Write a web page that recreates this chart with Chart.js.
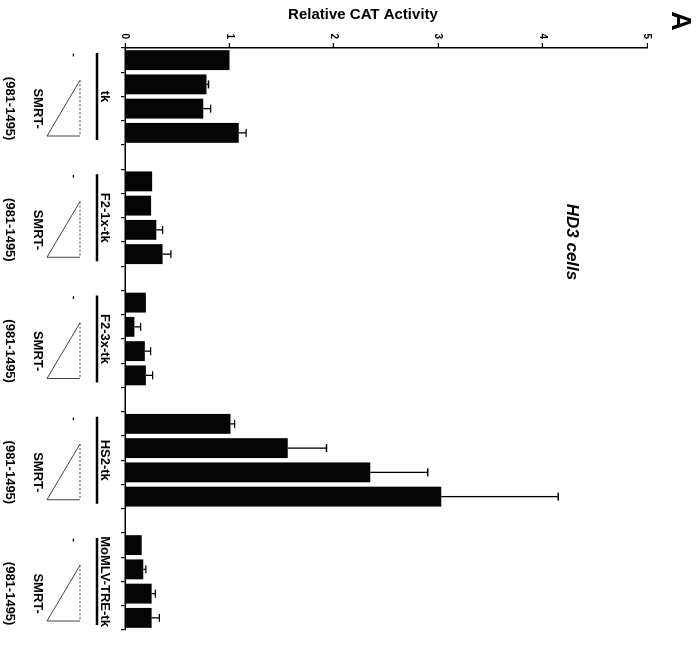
<!DOCTYPE html>
<html>
<head>
<meta charset="utf-8">
<script src="https://cdn.jsdelivr.net/npm/chart.js@4/dist/chart.umd.min.js"></script>
<style>
  html, body { margin: 0; padding: 0; background: #fff; overflow: hidden; }
  /* The figure is laid out upright and then turned a quarter turn clockwise on the page */
  #stage {
    position: absolute; left: 0; top: 0;
    width: 654px; height: 700px;
    transform-origin: 0 0;
    transform: translate(700px, 0) rotate(90deg);
    background: #fff;
  }
</style>
</head>
<body>
<div id="stage"><canvas id="chart" width="654" height="700"></canvas></div>
<script>
// Reporter constructs (one group of four bars each)
const reporters = ['tk', 'F2-1x-tk', 'F2-3x-tk', 'HS2-tk', 'MoMLV-TRE-tk'];

// Mean relative CAT activity: no SMRT, then increasing SMRT-(981-1495)
const tkMean       = [1.00, 0.78, 0.75, 1.09];
const f2OneMean    = [0.26, 0.25, 0.30, 0.36];
const f2ThreeMean  = [0.20, 0.09, 0.19, 0.20];
const hs2Mean      = [1.01, 1.56, 2.35, 3.03];
const momlvMean    = [0.16, 0.175, 0.255, 0.255];

// Upper end of each error bar (null = no bar drawn)
const tkUpper      = [null, 0.80, 0.82, 1.16];
const f2OneUpper   = [null, null, 0.36, 0.44];
const f2ThreeUpper = [null, 0.15, 0.245, 0.265];
const hs2Upper     = [1.05, 1.93, 2.90, 4.15];
const momlvUpper   = [null, 0.20, 0.29, 0.33];

// Value axis ticks
const activityTicks = [0, 1, 2, 3, 4, 5];

const FONT = "'Liberation Sans', Arial, Helvetica, sans-serif";
const groupMeans = [tkMean, f2OneMean, f2ThreeMean, hs2Mean, momlvMean];
const groupUpper = [tkUpper, f2OneUpper, f2ThreeUpper, hs2Upper, momlvUpper];

// Flatten into slots, leaving one empty slot between reporter groups
const slotLabels = [], slotMeans = [], slotUpper = [], groupStart = [];
groupMeans.forEach((means, g) => {
  if (g > 0) { slotLabels.push(''); slotMeans.push(null); slotUpper.push(null); }
  groupStart.push(slotLabels.length);
  means.forEach((m, i) => {
    slotLabels.push(reporters[g] + ' #' + (i + 1));
    slotMeans.push(m);
    slotUpper.push(groupUpper[g][i]);
  });
});

const figureMarks = {
  id: 'figureMarks',
  afterDatasetsDraw(chart) {
    const { ctx, scales: { x, y } } = chart;
    ctx.save();
    ctx.strokeStyle = '#000';
    ctx.lineWidth = 1.3;
    slotUpper.forEach((up, i) => {
      if (up === null || slotMeans[i] === null) return;
      const px = x.getPixelForValue(i);
      const y0 = y.getPixelForValue(slotMeans[i]);
      const y1 = y.getPixelForValue(up);
      ctx.beginPath();
      ctx.moveTo(px, y0); ctx.lineTo(px, y1);
      ctx.moveTo(px - 4, y1); ctx.lineTo(px + 4, y1);
      ctx.stroke();
    });
    ctx.restore();
  },
  afterDraw(chart) {
    const { ctx, chartArea, scales: { x, y } } = chart;
    const slotW = x.width / slotLabels.length;
    const base = chartArea.bottom;
    ctx.save();
    ctx.fillStyle = '#000';
    ctx.strokeStyle = '#000';
    ctx.textAlign = 'center';
    ctx.textBaseline = 'middle';

    reporters.forEach((name, g) => {
      const left = x.left + groupStart[g] * slotW;
      const right = left + 4 * slotW;

      // reporter name with rule beneath
      ctx.font = 'bold 13px ' + FONT;
      ctx.fillText(name, (left + right) / 2, base + 20);
      ctx.lineWidth = 2.6;
      ctx.beginPath();
      ctx.moveTo(left + 5, base + 28);
      ctx.lineTo(right - 5, base + 28);
      ctx.stroke();

      // no SMRT
      ctx.font = 'bold 11px ' + FONT;
      ctx.fillText('-', left + slotW / 2 - 5, base + 51);

      // increasing SMRT wedge
      const wl = left + slotW + 8, wr = right - 9;
      const wt = base + 45, wb = base + 78;
      ctx.strokeStyle = '#444';
      ctx.lineWidth = 1;
      ctx.beginPath();
      ctx.moveTo(wl, wt); ctx.lineTo(wr, wb); ctx.lineTo(wr, wt);
      ctx.stroke();
      ctx.setLineDash([2, 2]);
      ctx.beginPath();
      ctx.moveTo(wl, wt); ctx.lineTo(wr, wt);
      ctx.stroke();
      ctx.setLineDash([]);
      ctx.strokeStyle = '#000';

      const cx = (left + slotW + right) / 2;
      ctx.font = 'bold 13px ' + FONT;
      ctx.fillText('SMRT-', cx, base + 87);
      ctx.fillText('(981-1495)', cx, base + 115);
    });

    // value axis title
    ctx.save();
    ctx.translate(15, 337);
    ctx.rotate(-Math.PI / 2);
    ctx.font = 'bold 15px ' + FONT;
    ctx.fillText('Relative CAT Activity', 0, 0);
    ctx.restore();

    // panel letter and cell line
    ctx.font = 'bold 27px ' + FONT;
    ctx.fillText('A', 21, 21);
    ctx.font = 'italic bold 17px ' + FONT;
    ctx.fillText('HD3 cells', 242, 128);
    ctx.restore();
  }
};

new Chart(document.getElementById('chart'), {
  type: 'bar',
  data: {
    labels: slotLabels,
    datasets: [{
      data: slotMeans,
      backgroundColor: '#050505',
      borderWidth: 0,
      barPercentage: 0.82,
      categoryPercentage: 1
    }]
  },
  options: {
    responsive: false,
    animation: false,
    devicePixelRatio: 1,
    layout: { padding: { top: 53, right: 24, left: 0, bottom: 0 } },
    plugins: { legend: { display: false }, tooltip: { enabled: false } },
    scales: {
      x: {
        type: 'category',
        offset: true,
        grid: { offset: true, drawOnChartArea: false, drawTicks: true, tickLength: 4, color: '#000', lineWidth: 1.2 },
        border: { color: '#000', width: 1.5 },
        ticks: { display: false },
        afterFit(s) { s.height = 125; }
      },
      y: {
        min: 0,
        max: 5,
        afterBuildTicks(s) { s.ticks = activityTicks.map(v => ({ value: v })); },
        grid: { drawOnChartArea: false, tickLength: 5, color: '#000', lineWidth: 1.2 },
        border: { color: '#000', width: 1.5 },
        ticks: { color: '#000', font: { family: FONT, weight: 'bold', size: 10 }, padding: 4 },
        afterFit(s) { s.width = 48; }
      }
    }
  },
  plugins: [figureMarks]
});
</script>
</body>
</html>
